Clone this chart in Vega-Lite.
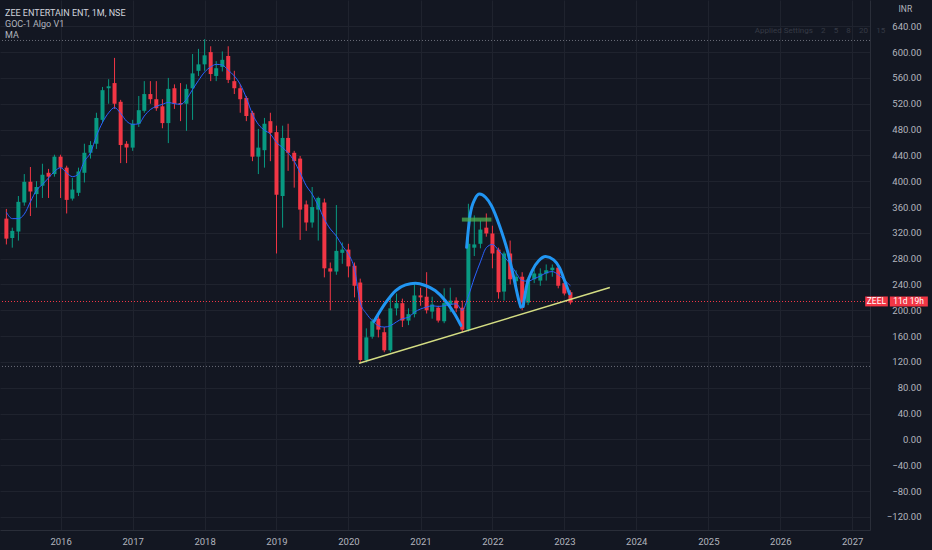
{
  "$schema": "https://vega.github.io/schema/vega-lite/v6.json",
  "description": "ZEE Entertainment monthly candles with MA, cup arcs and trendline.",
  "width": 870,
  "height": 530,
  "autosize": {"type": "none"},
  "padding": {"left": 0, "top": 0, "right": 62, "bottom": 20},
  "background": "#131722",
  "title": {
    "text": "ZEE ENTERTAIN ENT, 1M, NSE",
    "subtitle": ["GOC-1 Algo V1", "MA"],
    "anchor": "start",
    "frame": "group",
    "orient": "top",
    "offset": -40,
    "dx": 5,
    "font": "Roboto, sans-serif",
    "fontSize": 9,
    "fontWeight": "normal",
    "color": "#d1d4dc",
    "subtitleFont": "Roboto, sans-serif",
    "subtitleFontSize": 9,
    "subtitleColor": "#b2b5be",
    "subtitlePadding": 2,
    "subtitleLineHeight": 11.5
  },
  "datasets": {
    "candles": [
      {"d": "2015-04-01", "o": 342, "h": 357, "l": 302, "c": 311, "ma": 352},
      {"d": "2015-05-01", "o": 312, "h": 328, "l": 297, "c": 323, "ma": 342},
      {"d": "2015-06-01", "o": 322, "h": 377, "l": 308, "c": 368, "ma": 342},
      {"d": "2015-07-01", "o": 367, "h": 411, "l": 362, "c": 399, "ma": 349},
      {"d": "2015-08-01", "o": 399, "h": 422, "l": 346, "c": 384, "ma": 368},
      {"d": "2015-09-01", "o": 380, "h": 400, "l": 359, "c": 391, "ma": 386},
      {"d": "2015-10-01", "o": 393, "h": 427, "l": 374, "c": 410, "ma": 395},
      {"d": "2015-11-01", "o": 413, "h": 419, "l": 374, "c": 407, "ma": 405},
      {"d": "2015-12-01", "o": 411, "h": 441, "l": 407, "c": 438, "ma": 415},
      {"d": "2016-01-01", "o": 438, "h": 441, "l": 374, "c": 421, "ma": 421},
      {"d": "2016-02-01", "o": 421, "h": 424, "l": 350, "c": 371, "ma": 413},
      {"d": "2016-03-01", "o": 373, "h": 405, "l": 370, "c": 387, "ma": 407},
      {"d": "2016-04-01", "o": 382, "h": 421, "l": 377, "c": 415, "ma": 411},
      {"d": "2016-05-01", "o": 413, "h": 458, "l": 398, "c": 444, "ma": 431},
      {"d": "2016-06-01", "o": 444, "h": 462, "l": 435, "c": 456, "ma": 444},
      {"d": "2016-07-01", "o": 458, "h": 506, "l": 450, "c": 498, "ma": 470},
      {"d": "2016-08-01", "o": 495, "h": 546, "l": 490, "c": 541, "ma": 491},
      {"d": "2016-09-01", "o": 544, "h": 558, "l": 520, "c": 547, "ma": 506},
      {"d": "2016-10-01", "o": 552, "h": 591, "l": 512, "c": 520, "ma": 514},
      {"d": "2016-11-01", "o": 523, "h": 526, "l": 428, "c": 456, "ma": 505},
      {"d": "2016-12-01", "o": 458, "h": 462, "l": 428, "c": 452, "ma": 493},
      {"d": "2017-01-01", "o": 452, "h": 495, "l": 447, "c": 489, "ma": 488},
      {"d": "2017-02-01", "o": 489, "h": 532, "l": 484, "c": 510, "ma": 489},
      {"d": "2017-03-01", "o": 509, "h": 555, "l": 506, "c": 535, "ma": 501},
      {"d": "2017-04-01", "o": 535, "h": 555, "l": 520, "c": 527, "ma": 511},
      {"d": "2017-05-01", "o": 527, "h": 555, "l": 509, "c": 513, "ma": 516},
      {"d": "2017-06-01", "o": 516, "h": 527, "l": 482, "c": 490, "ma": 519},
      {"d": "2017-07-01", "o": 490, "h": 560, "l": 459, "c": 543, "ma": 522},
      {"d": "2017-08-01", "o": 544, "h": 550, "l": 512, "c": 520, "ma": 520},
      {"d": "2017-09-01", "o": 521, "h": 552, "l": 493, "c": 519, "ma": 519},
      {"d": "2017-10-01", "o": 520, "h": 550, "l": 478, "c": 543, "ma": 527},
      {"d": "2017-11-01", "o": 544, "h": 597, "l": 495, "c": 567, "ma": 542},
      {"d": "2017-12-01", "o": 571, "h": 605, "l": 563, "c": 581, "ma": 556},
      {"d": "2018-01-01", "o": 581, "h": 620, "l": 571, "c": 595, "ma": 569},
      {"d": "2018-02-01", "o": 600, "h": 609, "l": 555, "c": 566, "ma": 577},
      {"d": "2018-03-01", "o": 563, "h": 586, "l": 555, "c": 575, "ma": 581},
      {"d": "2018-04-01", "o": 577, "h": 601, "l": 570, "c": 588, "ma": 580},
      {"d": "2018-05-01", "o": 594, "h": 609, "l": 552, "c": 557, "ma": 572},
      {"d": "2018-06-01", "o": 555, "h": 571, "l": 535, "c": 544, "ma": 563},
      {"d": "2018-07-01", "o": 544, "h": 550, "l": 506, "c": 527, "ma": 550},
      {"d": "2018-08-01", "o": 529, "h": 532, "l": 493, "c": 501, "ma": 529},
      {"d": "2018-09-01", "o": 506, "h": 509, "l": 431, "c": 438, "ma": 504},
      {"d": "2018-10-01", "o": 438, "h": 481, "l": 411, "c": 452, "ma": 488},
      {"d": "2018-11-01", "o": 448, "h": 498, "l": 421, "c": 489, "ma": 479},
      {"d": "2018-12-01", "o": 493, "h": 506, "l": 431, "c": 475, "ma": 473},
      {"d": "2019-01-01", "o": 476, "h": 486, "l": 288, "c": 379, "ma": 460},
      {"d": "2019-02-01", "o": 377, "h": 486, "l": 328, "c": 467, "ma": 452},
      {"d": "2019-03-01", "o": 467, "h": 489, "l": 416, "c": 444, "ma": 444},
      {"d": "2019-04-01", "o": 444, "h": 447, "l": 390, "c": 431, "ma": 431},
      {"d": "2019-05-01", "o": 435, "h": 439, "l": 309, "c": 356, "ma": 413},
      {"d": "2019-06-01", "o": 364, "h": 370, "l": 323, "c": 336, "ma": 393},
      {"d": "2019-07-01", "o": 336, "h": 391, "l": 328, "c": 360, "ma": 380},
      {"d": "2019-08-01", "o": 356, "h": 376, "l": 308, "c": 374, "ma": 362},
      {"d": "2019-09-01", "o": 367, "h": 373, "l": 251, "c": 265, "ma": 341},
      {"d": "2019-10-01", "o": 265, "h": 274, "l": 200, "c": 260, "ma": 326},
      {"d": "2019-11-01", "o": 260, "h": 363, "l": 255, "c": 292, "ma": 315},
      {"d": "2019-12-01", "o": 289, "h": 305, "l": 272, "c": 294, "ma": 300},
      {"d": "2020-01-01", "o": 294, "h": 303, "l": 251, "c": 268, "ma": 287},
      {"d": "2020-02-01", "o": 269, "h": 274, "l": 220, "c": 238, "ma": 264},
      {"d": "2020-03-01", "o": 243, "h": 249, "l": 118, "c": 123, "ma": 212},
      {"d": "2020-04-01", "o": 123, "h": 172, "l": 119, "c": 158, "ma": 195},
      {"d": "2020-05-01", "o": 159, "h": 187, "l": 156, "c": 183, "ma": 184},
      {"d": "2020-06-01", "o": 187, "h": 195, "l": 158, "c": 170, "ma": 176},
      {"d": "2020-07-01", "o": 166, "h": 174, "l": 135, "c": 138, "ma": 174},
      {"d": "2020-08-01", "o": 138, "h": 221, "l": 135, "c": 203, "ma": 176},
      {"d": "2020-09-01", "o": 203, "h": 226, "l": 192, "c": 211, "ma": 182},
      {"d": "2020-10-01", "o": 211, "h": 218, "l": 174, "c": 184, "ma": 187},
      {"d": "2020-11-01", "o": 184, "h": 203, "l": 177, "c": 194, "ma": 189},
      {"d": "2020-12-01", "o": 194, "h": 242, "l": 189, "c": 223, "ma": 197},
      {"d": "2021-01-01", "o": 223, "h": 235, "l": 207, "c": 220, "ma": 202},
      {"d": "2021-02-01", "o": 221, "h": 259, "l": 195, "c": 200, "ma": 205},
      {"d": "2021-03-01", "o": 198, "h": 221, "l": 187, "c": 209, "ma": 207},
      {"d": "2021-04-01", "o": 204, "h": 207, "l": 181, "c": 184, "ma": 206},
      {"d": "2021-05-01", "o": 183, "h": 234, "l": 180, "c": 211, "ma": 207},
      {"d": "2021-06-01", "o": 209, "h": 235, "l": 197, "c": 215, "ma": 209},
      {"d": "2021-07-01", "o": 215, "h": 220, "l": 197, "c": 203, "ma": 210},
      {"d": "2021-08-01", "o": 204, "h": 215, "l": 166, "c": 170, "ma": 200},
      {"d": "2021-09-01", "o": 170, "h": 365, "l": 167, "c": 303, "ma": 222},
      {"d": "2021-10-01", "o": 297, "h": 347, "l": 284, "c": 302, "ma": 250},
      {"d": "2021-11-01", "o": 303, "h": 339, "l": 296, "c": 325, "ma": 275},
      {"d": "2021-12-01", "o": 328, "h": 350, "l": 314, "c": 319, "ma": 297},
      {"d": "2022-01-01", "o": 319, "h": 331, "l": 265, "c": 288, "ma": 302},
      {"d": "2022-02-01", "o": 294, "h": 297, "l": 218, "c": 228, "ma": 293},
      {"d": "2022-03-01", "o": 229, "h": 291, "l": 215, "c": 288, "ma": 283},
      {"d": "2022-04-01", "o": 288, "h": 308, "l": 240, "c": 248, "ma": 272},
      {"d": "2022-05-01", "o": 245, "h": 262, "l": 231, "c": 252, "ma": 258},
      {"d": "2022-06-01", "o": 252, "h": 259, "l": 200, "c": 212, "ma": 246},
      {"d": "2022-07-01", "o": 212, "h": 251, "l": 208, "c": 248, "ma": 245},
      {"d": "2022-08-01", "o": 248, "h": 263, "l": 242, "c": 257, "ma": 249},
      {"d": "2022-09-01", "o": 246, "h": 265, "l": 238, "c": 257, "ma": 253},
      {"d": "2022-10-01", "o": 257, "h": 271, "l": 246, "c": 262, "ma": 258},
      {"d": "2022-11-01", "o": 262, "h": 271, "l": 252, "c": 266, "ma": 260},
      {"d": "2022-12-01", "o": 266, "h": 269, "l": 234, "c": 238, "ma": 255},
      {"d": "2023-01-01", "o": 242, "h": 246, "l": 223, "c": 226, "ma": 247},
      {"d": "2023-02-01", "o": 228, "h": 231, "l": 209, "c": 212, "ma": 238}
    ],
    "arcs": [
      {"arc": 1, "d": "2020-05-10", "p": 182.8},
      {"arc": 1, "d": "2020-07-09", "p": 212.1},
      {"arc": 1, "d": "2020-08-28", "p": 230.6},
      {"arc": 1, "d": "2020-10-17", "p": 239.4},
      {"arc": 1, "d": "2020-12-06", "p": 241.9},
      {"arc": 1, "d": "2021-01-25", "p": 238.4},
      {"arc": 1, "d": "2021-03-16", "p": 230.6},
      {"arc": 1, "d": "2021-05-06", "p": 215.2},
      {"arc": 1, "d": "2021-06-25", "p": 193.6},
      {"arc": 1, "d": "2021-07-25", "p": 176.6},
      {"arc": 2, "d": "2021-08-23", "p": 297.5},
      {"arc": 2, "d": "2021-09-09", "p": 346.5},
      {"arc": 2, "d": "2021-10-04", "p": 372.3},
      {"arc": 2, "d": "2021-10-28", "p": 380},
      {"arc": 2, "d": "2021-11-28", "p": 374.8},
      {"arc": 2, "d": "2021-12-27", "p": 362},
      {"arc": 2, "d": "2022-02-06", "p": 331},
      {"arc": 2, "d": "2022-03-18", "p": 292.4},
      {"arc": 2, "d": "2022-04-17", "p": 253.8},
      {"arc": 2, "d": "2022-05-13", "p": 217.8},
      {"arc": 2, "d": "2022-05-25", "p": 204.8},
      {"arc": 3, "d": "2022-06-06", "p": 205.9},
      {"arc": 3, "d": "2022-06-24", "p": 238.4},
      {"arc": 3, "d": "2022-07-22", "p": 261.5},
      {"arc": 3, "d": "2022-08-25", "p": 277},
      {"arc": 3, "d": "2022-09-28", "p": 283.2},
      {"arc": 3, "d": "2022-11-08", "p": 278.1},
      {"arc": 3, "d": "2022-12-08", "p": 265.7},
      {"arc": 3, "d": "2023-01-02", "p": 246.1},
      {"arc": 3, "d": "2023-01-27", "p": 225.5}
    ],
    "trend": [
      {"d": "2020-02-24", "p": 117.9},
      {"d": "2023-08-20", "p": 235.3}
    ],
    "levels": [
      {"kind": "high", "p": 618},
      {"kind": "low", "p": 113},
      {"kind": "last", "p": 213.6}
    ],
    "zone": [
      {"d1": "2021-07-30", "d2": "2021-12-27", "p": 340.5}
    ],
    "tags": [
      {"label": "ZEEL", "d1": "2027-03-08", "d2": "2027-07-01", "dm": "2027-05-04", "lo": 206, "hi": 221.4, "p": 213.7},
      {"label": "11d 19h", "d1": "2027-07-11", "d2": "2028-01-20", "dm": "2027-10-14", "lo": 206, "hi": 221.4, "p": 213.7}
    ],
    "notes": [
      {"label": "Applied Settings\u2002\u20022\u2002\u20025\u2002\u20028\u2002\u200220\u2002\u200215", "d": "2025-08-25", "p": 632}
    ]
  },
  "layer": [
    {
      "data": {"name": "candles"},
      "mark": {"type": "rule", "strokeWidth": 1},
      "encoding": {
        "x": {
          "field": "d",
          "type": "temporal",
          "scale": {
            "type": "utc",
            "domain": [
              {"year": 2015, "month": 3, "date": 25, "utc": true},
              {"year": 2027, "month": 3, "date": 7, "utc": true}
            ]
          },
          "axis": {
            "title": null,
            "format": "%Y",
            "tickCount": {"interval": "year", "step": 1},
            "grid": true,
            "gridColor": "#1f232e",
            "tickSize": 0,
            "labelPadding": 6,
            "labelColor": "#b2b5be",
            "labelFontSize": 9.5,
            "labelFlush": false,
            "labelOverlap": false,
            "domainColor": "#2a2e39"
          }
        },
        "y": {
          "field": "l",
          "type": "quantitative",
          "scale": {"domain": [-140.4, 680.7], "nice": false, "zero": false},
          "axis": {
            "orient": "right",
            "title": "INR",
            "titleAngle": 0,
            "titleX": 28,
            "titleY": 8,
            "titleAlign": "left",
            "titleBaseline": "middle",
            "titleColor": "#b2b5be",
            "titleFontSize": 8.5,
            "titleFontWeight": "normal",
            "values": [-120, -80, -40, 0, 40, 80, 120, 160, 200, 240, 280, 320, 360, 400, 440, 480, 520, 560, 600, 640],
            "tickCount": 40,
            "format": ".2f",
            "grid": true,
            "gridColor": "#1f232e",
            "tickSize": 0,
            "labelPadding": 51,
            "labelAlign": "right",
            "labelBaseline": "middle",
            "labelOverlap": false,
            "labelColor": "#b2b5be",
            "labelFontSize": 9.5,
            "domainColor": "#2a2e39"
          }
        },
        "y2": {"field": "h"},
        "color": {
          "condition": {"test": "datum.c >= datum.o", "value": "#089981"},
          "value": "#f23645"
        }
      }
    },
    {
      "data": {"name": "candles"},
      "mark": {"type": "bar", "size": 4},
      "encoding": {
        "x": {"field": "d", "type": "temporal", "title": null},
        "y": {"field": "o", "type": "quantitative", "title": "INR"},
        "y2": {"field": "c"},
        "color": {
          "condition": {"test": "datum.c >= datum.o", "value": "#089981"},
          "value": "#f23645"
        }
      }
    },
    {
      "data": {"name": "candles"},
      "mark": {"type": "line", "color": "#2962ff", "strokeWidth": 1, "interpolate": "monotone"},
      "encoding": {
        "x": {"field": "d", "type": "temporal", "title": null},
        "y": {"field": "ma", "type": "quantitative", "title": "INR"}
      }
    },
    {
      "data": {"name": "levels"},
      "transform": [{"filter": "datum.kind != 'last'"}],
      "mark": {"type": "rule", "color": "#6a6d78", "strokeWidth": 1, "strokeDash": [1, 2]},
      "encoding": {
        "y": {"field": "p", "type": "quantitative", "title": "INR"}
      }
    },
    {
      "data": {"name": "levels"},
      "transform": [{"filter": "datum.kind == 'last'"}],
      "mark": {"type": "rule", "color": "#f23645", "strokeWidth": 1, "strokeDash": [1, 2]},
      "encoding": {
        "y": {"field": "p", "type": "quantitative", "title": "INR"}
      }
    },
    {
      "data": {"name": "trend"},
      "mark": {"type": "line", "color": "#d4dd83", "strokeWidth": 1.5},
      "encoding": {
        "x": {"field": "d", "type": "temporal", "title": null},
        "y": {"field": "p", "type": "quantitative", "title": "INR"}
      }
    },
    {
      "data": {"name": "arcs"},
      "mark": {"type": "line", "color": "#2196f3", "strokeWidth": 3, "interpolate": "monotone", "strokeCap": "round"},
      "encoding": {
        "x": {"field": "d", "type": "temporal", "title": null},
        "y": {"field": "p", "type": "quantitative", "title": "INR"},
        "detail": {"field": "arc"}
      }
    },
    {
      "data": {"name": "zone"},
      "mark": {"type": "rule", "color": "#4caf50", "strokeWidth": 4, "opacity": 0.75},
      "encoding": {
        "x": {"field": "d1", "type": "temporal", "title": null},
        "x2": {"field": "d2"},
        "y": {"field": "p", "type": "quantitative", "title": "INR"}
      }
    },
    {
      "data": {"name": "tags"},
      "mark": {"type": "rect", "color": "#f23645"},
      "encoding": {
        "x": {"field": "d1", "type": "temporal", "title": null},
        "x2": {"field": "d2"},
        "y": {"field": "lo", "type": "quantitative", "title": "INR"},
        "y2": {"field": "hi"}
      }
    },
    {
      "data": {"name": "tags"},
      "mark": {"type": "text", "color": "#ffffff", "fontSize": 8.5, "align": "center", "baseline": "middle"},
      "encoding": {
        "x": {"field": "dm", "type": "temporal", "title": null},
        "y": {"field": "p", "type": "quantitative", "title": "INR"},
        "text": {"field": "label"}
      }
    },
    {
      "data": {"name": "notes"},
      "mark": {"type": "text", "color": "#363a45", "fontSize": 8, "align": "left", "baseline": "middle"},
      "encoding": {
        "x": {"field": "d", "type": "temporal", "title": null},
        "y": {"field": "p", "type": "quantitative", "title": "INR"},
        "text": {"field": "label"}
      }
    }
  ],
  "config": {
    "view": {"stroke": null},
    "font": "Roboto, sans-serif",
    "axis": {
      "labelFont": "Roboto, sans-serif",
      "titleFont": "Roboto, sans-serif"
    }
  }
}
